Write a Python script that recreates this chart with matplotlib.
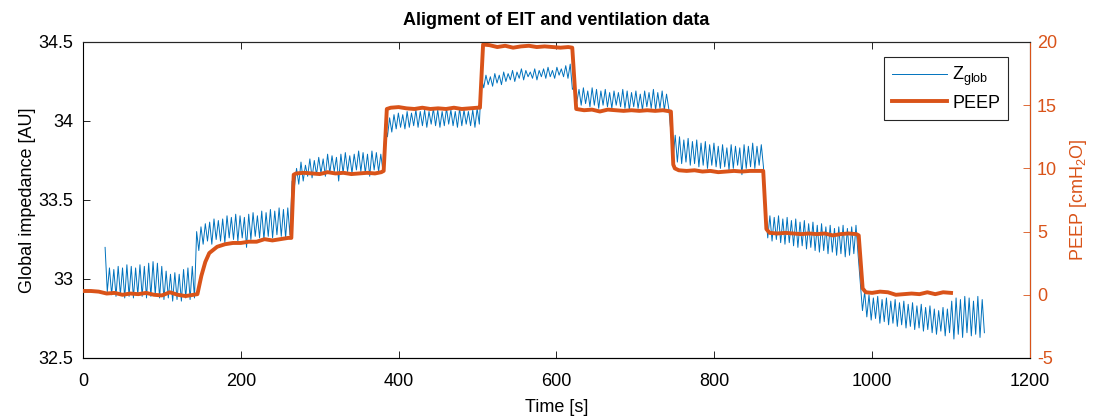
import numpy as np
import matplotlib
matplotlib.use("Agg")
import matplotlib.pyplot as plt
from matplotlib.ticker import FormatStrFormatter

plt.rcParams['font.family'] = ['Liberation Sans', 'DejaVu Sans']
plt.rcParams['font.size'] = 13
plt.rcParams['axes.unicode_minus'] = False
plt.rcParams['mathtext.fontset'] = 'custom'
plt.rcParams['mathtext.rm'] = 'Liberation Sans'
plt.rcParams['mathtext.it'] = 'Liberation Sans'

blue = '#0072BD'
orange = '#D95319'

# Global impedance: peak / trough per breath, one list per PEEP step
seg_t = [(28, 144), (144, 265), (265, 383), (383, 505), (505, 623),
         (623, 745), (745, 865), (865, 985), (985, 1145)]

seg_peaks = [
    [33.20, 33.07, 33.06, 33.08, 33.07, 33.09, 33.08, 33.07, 33.09, 33.08, 33.10,
     33.11, 33.10, 33.08, 33.05, 33.03, 33.04, 33.03, 33.06, 33.07, 33.08],
    [33.30, 33.33, 33.35, 33.36, 33.38, 33.37, 33.38, 33.40, 33.39, 33.41, 33.40,
     33.39, 33.41, 33.42, 33.40, 33.43, 33.42, 33.44, 33.43, 33.45, 33.44, 33.45],
    [33.62, 33.70, 33.74, 33.72, 33.76, 33.75, 33.77, 33.76, 33.79, 33.78, 33.77,
     33.79, 33.80, 33.78, 33.79, 33.81, 33.80, 33.79, 33.81, 33.80, 33.79],
    [33.98, 34.02, 34.04, 34.05, 34.04, 34.06, 34.05, 34.07, 34.06, 34.07, 34.06,
     34.08, 34.07, 34.06, 34.08, 34.07, 34.06, 34.08, 34.07, 34.06, 34.07, 34.08],
    [34.27, 34.29, 34.28, 34.30, 34.29, 34.31, 34.30, 34.32, 34.31, 34.33, 34.32,
     34.31, 34.33, 34.32, 34.33, 34.34, 34.32, 34.34, 34.33, 34.35, 34.36],
    [34.22, 34.20, 34.21, 34.19, 34.21, 34.20, 34.19, 34.20, 34.18, 34.19, 34.18,
     34.20, 34.19, 34.18, 34.19, 34.17, 34.19, 34.18, 34.20, 34.18, 34.19, 34.17],
    [33.93, 33.91, 33.90, 33.88, 33.89, 33.87, 33.88, 33.86, 33.87, 33.85, 33.86,
     33.84, 33.85, 33.83, 33.85, 33.84, 33.83, 33.85, 33.84, 33.86, 33.84, 33.85],
    [33.42, 33.40, 33.39, 33.40, 33.38, 33.39, 33.37, 33.38, 33.36, 33.37, 33.35,
     33.36, 33.34, 33.35, 33.33, 33.34, 33.32, 33.33, 33.34, 33.32, 33.33, 33.34],
    [32.98, 32.92, 32.90, 32.88, 32.89, 32.87, 32.88, 32.86, 32.87, 32.85, 32.86,
     32.84, 32.85, 32.83, 32.84, 32.82, 32.83, 32.81, 32.80, 32.82, 32.81, 32.86,
     32.88, 32.87, 32.89, 32.88, 32.86, 32.89, 32.87],
]

seg_troughs = [
    [32.92, 32.90, 32.89, 32.90, 32.88, 32.89, 32.88, 32.90, 32.89, 32.88, 32.89,
     32.90, 32.88, 32.87, 32.88, 32.86, 32.87, 32.86, 32.88, 32.87, 32.88],
    [33.18, 33.22, 33.24, 33.22, 33.25, 33.24, 33.23, 33.26, 33.25, 33.24, 33.26,
     33.20, 33.25, 33.27, 33.26, 33.25, 33.27, 33.26, 33.28, 33.27, 33.26, 33.28],
    [33.58, 33.60, 33.62, 33.65, 33.64, 33.66, 33.67, 33.65, 33.67, 33.68, 33.62,
     33.67, 33.68, 33.67, 33.69, 33.68, 33.67, 33.65, 33.69, 33.68, 33.68],
    [33.90, 33.93, 33.95, 33.96, 33.95, 33.96, 33.97, 33.96, 33.97, 33.96, 33.98,
     33.97, 33.96, 33.97, 33.98, 33.97, 33.96, 33.97, 33.98, 33.97, 33.96, 33.98],
    [34.21, 34.23, 34.22, 34.24, 34.23, 34.25, 34.26, 34.25, 34.27, 34.26, 34.28,
     34.27, 34.26, 34.28, 34.27, 34.28, 34.27, 34.29, 34.28, 34.27, 34.20],
    [34.12, 34.10, 34.11, 34.09, 34.10, 34.08, 34.10, 34.09, 34.08, 34.10, 34.09,
     34.08, 34.07, 34.09, 34.08, 34.07, 34.09, 34.08, 34.07, 34.08, 34.07, 34.08],
    [33.76, 33.74, 33.73, 33.74, 33.72, 33.73, 33.71, 33.72, 33.70, 33.72, 33.71,
     33.70, 33.71, 33.69, 33.70, 33.72, 33.66, 33.70, 33.71, 33.70, 33.72, 33.71],
    [33.26, 33.24, 33.25, 33.23, 33.22, 33.23, 33.21, 33.20, 33.21, 33.19, 33.20,
     33.18, 33.17, 33.18, 33.16, 33.17, 33.15, 33.16, 33.14, 33.15, 33.16, 33.15],
    [32.80, 32.76, 32.74, 32.75, 32.72, 32.73, 32.71, 32.72, 32.70, 32.71, 32.69,
     32.70, 32.68, 32.69, 32.67, 32.68, 32.66, 32.65, 32.67, 32.64, 32.66, 32.62,
     32.65, 32.63, 32.66, 32.64, 32.65, 32.63, 32.66],
]

# PEEP from the ventilator
peep_t = [0, 10, 20, 30, 40, 50, 60, 70, 80, 90, 100, 110, 120, 130, 140, 145,
          150, 155, 160, 170, 180, 190, 200, 210, 220, 230, 240, 250, 260, 264,
          267, 270, 280, 290, 300, 310, 320, 330, 340, 350, 360, 370, 378, 381,
          385, 390, 400, 410, 420, 430, 440, 450, 460, 470, 480, 490, 500, 503,
          507, 515, 525, 535, 545, 555, 565, 575, 585, 595, 605, 615, 620,
          625, 635, 645, 655, 665, 675, 685, 695, 705, 715, 725, 735, 740,
          745, 748, 750, 755, 765, 775, 785, 795, 805, 815, 825, 835, 845, 855, 862,
          866, 870, 880, 890, 900, 910, 920, 930, 940, 950, 960, 970, 980, 983,
          988, 992, 1000, 1010, 1020, 1030, 1040, 1050, 1060, 1070, 1080, 1090, 1100]
peep_v = [0.3, 0.3, 0.25, 0.1, 0.15, 0.0, 0.1, 0.05, 0.15, 0.0, -0.05, 0.2, 0.0, -0.1, 0.0, 0.05,
          1.5, 2.6, 3.3, 3.8, 4.0, 4.1, 4.1, 4.2, 4.2, 4.4, 4.3, 4.4, 4.5, 4.5,
          9.5, 9.6, 9.65, 9.6, 9.55, 9.7, 9.6, 9.65, 9.55, 9.6, 9.65, 9.6, 9.7, 9.8,
          14.7, 14.8, 14.85, 14.75, 14.7, 14.8, 14.7, 14.75, 14.7, 14.8, 14.7, 14.75, 14.8, 14.8,
          19.8, 19.75, 19.6, 19.7, 19.55, 19.65, 19.7, 19.6, 19.65, 19.6, 19.55, 19.6, 19.55,
          14.7, 14.6, 14.65, 14.5, 14.65, 14.6, 14.55, 14.6, 14.55, 14.6, 14.55, 14.6, 14.55,
          14.5, 10.3, 10.0, 9.85, 9.8, 9.85, 9.75, 9.8, 9.7, 9.75, 9.8, 9.75, 9.8, 9.8, 9.8,
          5.2, 4.9, 4.85, 4.9, 4.85, 4.8, 4.85, 4.8, 4.85, 4.7, 4.8, 4.85, 4.8, 4.7,
          0.5, 0.2, 0.15, 0.25, 0.2, 0.0, 0.05, 0.1, 0.05, 0.2, 0.05, 0.2, 0.15]

# build the breathing trace: peak, trough, peak, trough ...
z_t = []
z_v = []
for (t0, t1), pk, tr in zip(seg_t, seg_peaks, seg_troughs):
    vals = []
    for a, b in zip(pk, tr):
        vals += [a, b]
    z_t += list(np.linspace(t0, t1, len(vals), endpoint=False))
    z_v += vals

fig = plt.figure(figsize=(10.95, 4.19), dpi=100)
ax = fig.add_axes([0.0758, 0.1456, 0.8648, 0.7542])
ax2 = ax.twinx()

l1, = ax.plot(z_t, z_v, color=blue, lw=0.7, label='Z$_{\\mathrm{glob}}$')
l2, = ax2.plot(peep_t, peep_v, color=orange, lw=2.8, label='PEEP')

ax.set_xlim(0, 1200)
ax.set_ylim(32.5, 34.5)
ax.set_xticks(np.arange(0, 1201, 200))
ax.set_yticks([32.5, 33, 33.5, 34, 34.5])
ax.yaxis.set_major_formatter(FormatStrFormatter('%g'))
ax2.set_ylim(-5, 20)
ax2.set_yticks(np.arange(-5, 21, 5))

ax.set_xlabel('Time [s]', labelpad=6)
ax.set_ylabel('Global impedance [AU]', labelpad=2)
ax2.set_ylabel('PEEP [cmH$_2$O]', color=orange, labelpad=8)
ax.set_title('Aligment of EIT and ventilation data', fontweight='bold', fontsize=13, pad=12)

ax.tick_params(direction='in', length=5, width=0.6, top=True, labelsize=13)
ax.tick_params(axis='x', pad=11)
ax.tick_params(axis='y', pad=7)
ax2.tick_params(direction='in', length=5, width=0.6, colors=orange, labelsize=13, pad=5)
for s in ['left', 'bottom']:
    ax.spines[s].set_linewidth(0.8)
ax.spines['top'].set_color('#262626')
ax2.spines['right'].set_color(orange)
ax2.spines['left'].set_visible(False)
ax2.spines['top'].set_color('#262626')

leg = ax2.legend(handles=[l1, l2], loc='upper right', bbox_to_anchor=(0.977, 0.952),
                 borderaxespad=0, fancybox=False, edgecolor='#262626', framealpha=1,
                 handlelength=3.0, borderpad=0.45, labelspacing=0.35, handletextpad=0.3)
leg.get_frame().set_linewidth(0.8)

fig.savefig('out.png', dpi=100)
